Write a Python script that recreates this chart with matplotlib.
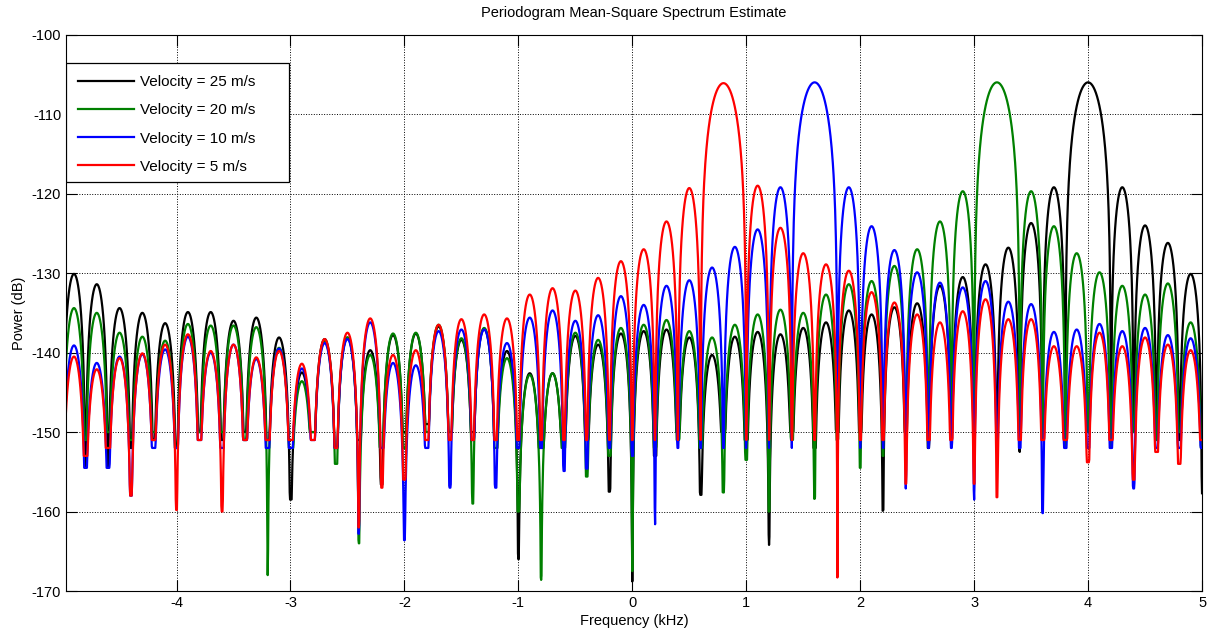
import numpy as np
import matplotlib.pyplot as plt
from matplotlib.patches import Rectangle

plt.rcParams['font.family'] = ['Liberation Sans', 'DejaVu Sans']
plt.rcParams['font.size'] = 10
plt.rcParams['axes.unicode_minus'] = False

# lobes of the periodogram sit on odd tenths of a kHz, nulls on even tenths
lobe_f = np.round(np.arange(-4.9, 4.95, 0.2), 1)   # 50 lobe centres
null_f = np.round(np.arange(-5.0, 5.05, 0.2), 1)   # 51 nulls

labels = ['Velocity = 25 m/s', 'Velocity = 20 m/s', 'Velocity = 10 m/s', 'Velocity = 5 m/s']
colors = ['#000000', '#008000', '#0000FF', '#FF0000']
peak_f = [4.0, 3.2, 1.6, 0.8]
peak_db = [-106.0, -106.0, -106.0, -106.1]
nan = np.nan

# lobe top levels (dB) at -4.9, -4.7, ... 4.9 ; nan = inside main lobe
lobes_25 = [-130.1, -131.4, -134.4, -135.0, -136.3, -134.9, -134.9, -136.0, -135.6, -138.1,
            -142.5, -138.3, -138.1, -139.7, -137.8, -137.6, -136.7, -138.4, -137.0, -139.8,
            -142.6, -142.6, -137.9, -139.0, -137.6, -137.3, -137.1, -138.1, -140.3, -138.0,
            -137.4, -137.7, -136.9, -136.2, -134.7, -135.2, -134.3, -133.8, -131.6, -130.5,
            -128.9, -126.8, -123.7, -119.2, nan, nan, -119.2, -124.0, -126.2, -130.1]
lobes_20 = [-134.4, -135.0, -137.5, -138.0, -138.5, -136.4, -136.6, -136.6, -136.8, -139.4,
            -143.6, -138.6, -138.1, -140.3, -137.6, -137.5, -136.5, -138.2, -136.9, -140.7,
            -142.8, -142.6, -137.5, -138.4, -136.9, -136.5, -135.9, -137.3, -138.1, -136.5,
            -135.2, -134.6, -135.0, -132.7, -131.4, -131.0, -129.1, -127.0, -123.5, -119.7,
            nan, nan, -119.7, -124.1, -127.5, -129.9, -131.6, -132.7, -131.3, -136.2]
lobes_10 = [-139.1, -141.3, -140.5, -140.2, -139.6, -138.0, -140.0, -139.0, -140.8, -139.5,
            -142.0, -138.8, -138.3, -136.2, -141.3, -141.6, -137.3, -137.1, -137.1, -138.8,
            -135.6, -134.7, -136.0, -135.3, -132.9, -134.0, -131.6, -130.9, -129.3, -126.7,
            -124.5, -119.2, nan, nan, -119.2, -124.1, -127.1, -129.9, -131.2, -131.8,
            -131.0, -133.6, -133.9, -137.4, -137.1, -136.4, -137.3, -136.9, -137.8, -138.2]
lobes_5 = [-140.5, -142.1, -140.7, -140.1, -139.0, -137.7, -139.8, -139.0, -140.6, -139.8,
           -141.4, -138.3, -137.5, -135.7, -140.3, -139.7, -136.5, -135.8, -135.2, -135.7,
           -132.7, -131.9, -132.2, -130.6, -128.5, -127.0, -123.5, -119.3, nan, nan,
           -119.0, -124.3, -127.5, -128.9, -129.7, -132.4, -133.7, -135.2, -136.2, -134.8,
           -133.3, -135.8, -135.8, -139.2, -139.2, -137.5, -139.2, -138.1, -139.0, -139.7]

# null depths (dB) at -5.0, -4.8, ... 5.0 ; nan = centre of main lobe
nulls_25 = [-150, -154.5, -154.5, -152, -151, -152, -150, -151, -150, -151,
            -158.5, -150, -152, -151, -156.6, -150, -149, -150, -150, -151,
            -166, -152, -150, -151, -157.5, -168.8, -153, -150, -157.9, -150,
            -151, -164.2, -150, -152, -150, -150, -159.9, -150, -152, -150,
            -150, -150, -152.5, -150, -151, nan, -150, -150, -150, -151, -157.7]
nulls_20 = [-150, -151, -150, -151, -150, -152, -150, -150, -151, -168,
            -152, -150, -154, -164, -152, -152, -150, -150, -159, -152,
            -160, -168.6, -152, -155.6, -153, -167.5, -152, -151, -152, -157.6,
            -153.5, -160, -151, -158.4, -151, -154.5, -153, -151, -150, -150,
            -152, nan, -150, -151, -152, -150, -152, -150, -151, -150, -152]
nulls_10 = [-150, -154.5, -154.5, -158, -152, -152, -151, -152, -151, -152,
            -152, -151, -152, -162.8, -152, -163.6, -152, -157, -151, -157,
            -152, -152, -154.9, -154.6, -152, -153, -161.6, -152, -152, -152,
            -152, -152, -152, nan, -152, -152, -152, -157.1, -152, -152,
            -158.5, -152, -152, -160.2, -152, -152, -152, -157.1, -152, -152, -152]
nulls_5 = [-151, -153, -152, -158, -151, -159.8, -151, -160, -151, -151,
           -151, -151, -152, -162, -157, -156, -151, -151, -151, -151,
           -151, -151, -151, -151, -151, -151, -151, -151, -151, nan,
           -151, -151, -151, -151, -168.3, -151, -151, -156.5, -151, -151,
           -156.5, -158.2, -151, -151, -151, -153.8, -151, -156, -152.5, -154, -151]

all_lobes = [lobes_25, lobes_20, lobes_10, lobes_5]
all_nulls = [nulls_25, nulls_20, nulls_10, nulls_5]


def build(f0, top, lobes, nulls):
    xs, ys = [], []
    i = 0
    while i < len(lobe_f):
        a, b = null_f[i], null_f[i + 1]
        lvl, na, nb = lobes[i], nulls[i], nulls[i + 1]
        if np.isclose(b, f0):
            b, lvl, nb = null_f[i + 2], top, nulls[i + 2]
            i += 2
        else:
            i += 1
        t = np.linspace(0, 1, int(round(300 * (b - a))))
        y = lvl + 20 * np.log10(np.maximum(np.sin(np.pi * t), 1e-9))
        y = np.maximum(y, np.where(t < 0.5, na, nb))
        xs.append(a + (b - a) * t)
        ys.append(y)
    return np.concatenate(xs), np.concatenate(ys)


fig = plt.figure(figsize=(12.11, 6.34), dpi=100)
ax = fig.add_axes([0.0545, 0.0678, 0.9381, 0.8775])

for f0, top, lob, nul, c, lab in zip(peak_f, peak_db, all_lobes, all_nulls, colors, labels):
    x, y = build(f0, top, lob, nul)
    ax.plot(x, y, color=c, lw=1.6, label=lab)

ax.set_xlim(-4.97, 5.0)
ax.set_ylim(-170, -100)
ax.set_xticks(np.arange(-4, 6, 1))
ax.set_yticks(np.arange(-170, -99, 10))
ax.grid(True, linestyle=':', color='black', lw=0.7)
ax.tick_params(direction='in', length=8, top=True, right=True, labelsize=10.5)
for s in ax.spines.values():
    s.set_linewidth(0.8)

ax.set_title('Periodogram Mean-Square Spectrum Estimate', fontsize=10.5, pad=13)
ax.set_xlabel('Frequency (kHz)', fontsize=10.5, labelpad=3)
ax.set_ylabel('Power (dB)', fontsize=10.5, labelpad=4)

# legend box drawn wider than its text, as in the original
ax.add_patch(Rectangle((0.0, 0.7356), 0.1963, 0.2130, transform=ax.transAxes,
                       facecolor='white', edgecolor='black', lw=0.9, zorder=4.5))
leg = ax.legend(loc='upper left', bbox_to_anchor=(0.0, 0.9486), borderaxespad=0,
                frameon=False, fontsize=11, handlelength=3.66, handletextpad=0.4,
                labelspacing=0.93, borderpad=0.78)
leg.set_zorder(5)

fig.savefig('out.png', dpi=100)
